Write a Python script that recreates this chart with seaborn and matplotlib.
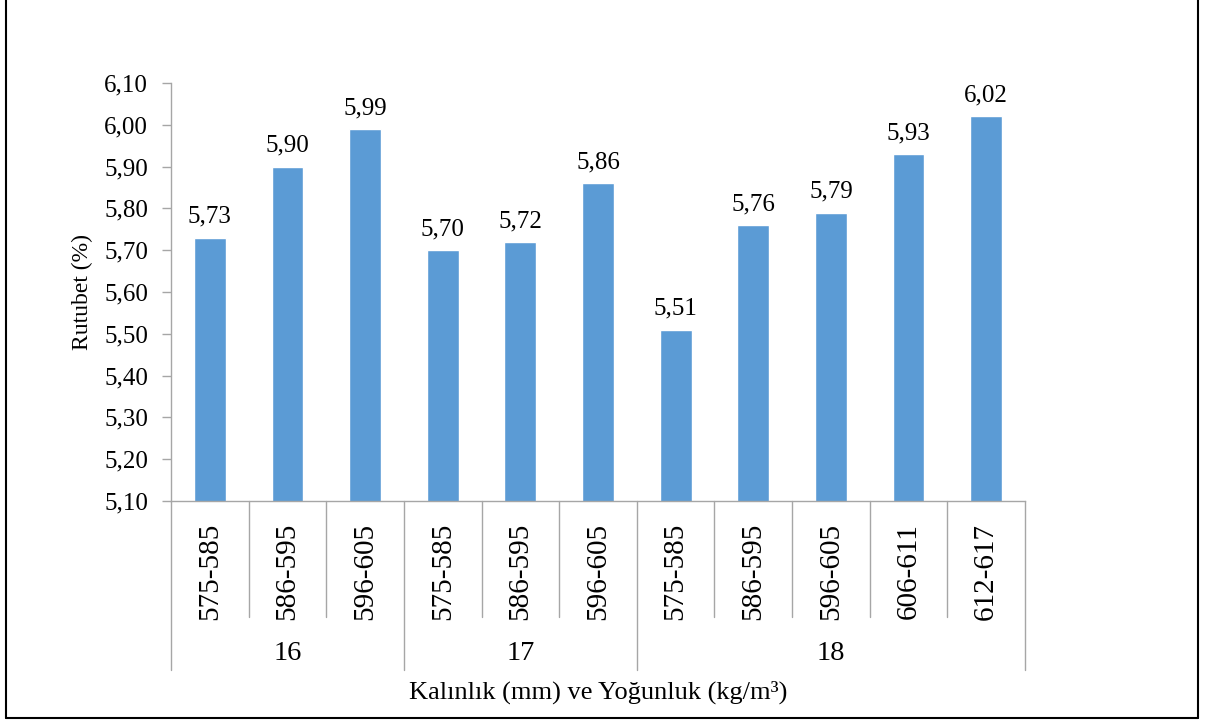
import numpy as np
import pandas as pd
import matplotlib
matplotlib.use("Agg")
import matplotlib.pyplot as plt
import matplotlib.transforms as mtransforms
from matplotlib.lines import Line2D
from matplotlib.ticker import FuncFormatter
import seaborn as sns

# Data
groups = ["16", "17", "18"]
group_sizes = [3, 3, 5]
ranges = ["575-585", "586-595", "596-605",
          "575-585", "586-595", "596-605",
          "575-585", "586-595", "596-605", "606-611", "612-617"]
values = [5.73, 5.90, 5.99, 5.70, 5.72, 5.86, 5.51, 5.76, 5.79, 5.93, 6.02]

y_ticks = [5.10, 5.20, 5.30, 5.40, 5.50, 5.60, 5.70, 5.80, 5.90, 6.00, 6.10]
y_label = "Rutubet (%)"
x_label = "Kalınlık (mm) ve Yoğunluk (kg/m³)"

BAR_COLOR = "#5B9BD5"
AXIS_COLOR = "#A6A6A6"

sns.set_style("white")
plt.rcParams['font.family'] = ['Liberation Serif', 'DejaVu Serif']
plt.rcParams['font.size'] = 18
plt.rcParams['text.color'] = 'black'
plt.rcParams['ytick.labelcolor'] = 'black'

group_col = np.repeat(groups, group_sizes)
df = pd.DataFrame({
    "group": group_col,
    "range": ranges,
    "value": values,
})
df["key"] = df["group"] + "|" + df["range"]

fig = plt.figure(figsize=(12.05, 7.2), dpi=100)
ax = fig.add_axes([171 / 1205, 1 - 501 / 720, (1025 - 171) / 1205, (501 - 83) / 720])

sns.barplot(data=df, x="key", y="value", color=BAR_COLOR, width=0.41,
            saturation=1, ax=ax, order=list(df["key"]))

ax.set_ylim(y_ticks[0], y_ticks[-1])
ax.set_xlim(-0.5, len(df) - 0.5)
ax.set_yticks(y_ticks)
ax.yaxis.set_major_formatter(FuncFormatter(lambda v, p: f"{v:.2f}".replace(".", ",")))
ax.tick_params(axis="y", which="both", left=True, length=6.5, width=1,
               color=AXIS_COLOR, labelcolor="black", labelsize=18, pad=10)
ax.tick_params(axis="x", bottom=False, labelbottom=False)
ax.set_xlabel("")
ax.set_ylabel("")

for side in ["top", "right"]:
    ax.spines[side].set_visible(False)
for side in ["left", "bottom"]:
    ax.spines[side].set_color(AXIS_COLOR)
    ax.spines[side].set_linewidth(1)

# value labels
ax.bar_label(ax.containers[0],
             labels=[f"{v:.2f}".replace(".", ",") for v in values],
             padding=7, fontsize=18, color="black")

# multi-level category axis
trans = mtransforms.blended_transform_factory(ax.transData, ax.transAxes)
ax_h = 501 - 83
inner_len = -(617 - 501) / ax_h
outer_len = -(670 - 501) / ax_h

bounds = np.cumsum([0] + group_sizes) - 0.5
for i in range(len(df) + 1):
    xb = i - 0.5
    y_end = outer_len if xb in bounds else inner_len
    ax.add_line(Line2D([xb, xb], [0, y_end], transform=trans, color=AXIS_COLOR,
                       lw=1, clip_on=False))

for i, r in enumerate(ranges):
    ax.text(i, -(571 - 501) / ax_h, r, transform=trans, rotation=90,
            ha="center", va="center", fontsize=21, color="black")

for g, lo, hi in zip(groups, bounds[:-1], bounds[1:]):
    ax.text((lo + hi) / 2, -(654 - 501) / ax_h, g, transform=trans,
            ha="center", va="center", fontsize=20.5, color="black")

ax.text(0.5, -(692 - 501) / ax_h, x_label, transform=ax.transAxes,
        ha="center", va="center", fontsize=19, color="black")
ax.text((82 - 171) / (1025 - 171), 0.5, y_label, transform=ax.transAxes,
        rotation=90, ha="center", va="center", fontsize=17, color="black")

# outer frame
fx0, fx1 = 6 / 1205, 1198 / 1205
fy0 = 1 - 718 / 720
for xs, ys in [([fx0, fx0], [fy0, 1.01]), ([fx1, fx1], [fy0, 1.01]), ([fx0, fx1], [fy0, fy0])]:
    fig.add_artist(Line2D(xs, ys, transform=fig.transFigure, color="black", lw=1.5))

fig.savefig("out.png", dpi=100)
